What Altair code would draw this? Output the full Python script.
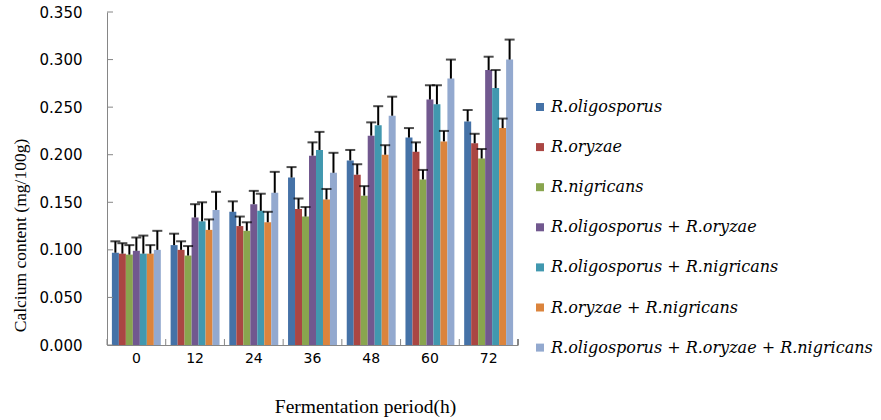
import altair as alt
import pandas as pd

times = ["0", "12", "24", "36", "48", "60", "72"]
series = [
    "R.oligosporus",
    "R.oryzae",
    "R.nigricans",
    "R.oligosporus + R.oryzae",
    "R.oligosporus + R.nigricans",
    "R.oryzae + R.nigricans",
    "R.oligosporus + R.oryzae + R.nigricans",
]
colors = ["#4572A7", "#AA4643", "#89A54E", "#71588F", "#4198AF", "#DB843D", "#93A9CF"]

oligosporus = [0.097, 0.105, 0.140, 0.176, 0.194, 0.218, 0.235]
oryzae = [0.096, 0.100, 0.125, 0.143, 0.179, 0.203, 0.212]
nigricans = [0.095, 0.094, 0.120, 0.135, 0.157, 0.174, 0.196]
olig_ory = [0.099, 0.134, 0.148, 0.199, 0.220, 0.258, 0.289]
olig_nig = [0.096, 0.130, 0.141, 0.205, 0.231, 0.253, 0.270]
ory_nig = [0.096, 0.121, 0.129, 0.153, 0.200, 0.214, 0.228]
all_three = [0.100, 0.142, 0.160, 0.181, 0.241, 0.280, 0.300]

err_oligosporus = [0.012, 0.012, 0.011, 0.011, 0.011, 0.010, 0.012]
err_oryzae = [0.011, 0.009, 0.010, 0.011, 0.011, 0.010, 0.010]
err_nigricans = [0.010, 0.010, 0.009, 0.010, 0.010, 0.010, 0.010]
err_olig_ory = [0.014, 0.014, 0.014, 0.014, 0.014, 0.015, 0.014]
err_olig_nig = [0.019, 0.020, 0.018, 0.019, 0.020, 0.020, 0.019]
err_ory_nig = [0.009, 0.011, 0.011, 0.011, 0.010, 0.011, 0.010]
err_all_three = [0.020, 0.019, 0.022, 0.021, 0.020, 0.020, 0.021]

y_ticks = [0.0, 0.05, 0.10, 0.15, 0.20, 0.25, 0.30, 0.35]

values = [oligosporus, oryzae, nigricans, olig_ory, olig_nig, ory_nig, all_three]
errors = [err_oligosporus, err_oryzae, err_nigricans, err_olig_ory, err_olig_nig, err_ory_nig, err_all_three]

rows = []
for s, vals, errs in zip(series, values, errors):
    for t, v, e in zip(times, vals, errs):
        rows.append({"time": t, "series": s, "value": v, "upper": v + e})
df = pd.DataFrame(rows)
tick_df = pd.DataFrame({"tick": y_ticks})
time_df = pd.DataFrame({"time": times})

AXIS_GRAY = "#868686"
LEGEND_FONT = "DejaVu Serif"
LEGEND_SIZE = 16

x_enc = alt.X(
    "time:N",
    sort=times,
    scale=alt.Scale(paddingInner=0, paddingOuter=0),
    axis=alt.Axis(
        labelAngle=0,
        labelFont="DejaVu Sans",
        labelFontSize=14,
        labelColor="#000000",
        labelPadding=6,
        ticks=False,
        domainColor=AXIS_GRAY,
        domainWidth=1,
        title="Fermentation period(h)",
        titleFont="Liberation Serif",
        titleFontSize=19.5,
        titleFontWeight="normal",
        titleColor="#000000",
        titleX=258,
        titleY=61,
        titleAlign="center",
        titleBaseline="middle",
    ),
)
xoff_enc = alt.XOffset(
    "series:N", sort=series, scale=alt.Scale(paddingInner=0, paddingOuter=0.7)
)
y_scale = alt.Scale(domain=[0, 0.35], nice=False)

bars = alt.Chart(df).mark_bar().encode(
    x=x_enc,
    xOffset=xoff_enc,
    y=alt.Y(
        "value:Q",
        scale=y_scale,
        axis=alt.Axis(
            values=y_ticks,
            format=".3f",
            labelFont="DejaVu Sans",
            labelFontSize=15,
            labelColor="#000000",
            ticks=False,
            labelPadding=25,
            domainColor=AXIS_GRAY,
            domainWidth=1,
            grid=False,
            title="Calcium content (mg/100g)",
            titleFont="Liberation Serif",
            titleFontSize=17.5,
            titleFontWeight="normal",
            titleColor="#000000",
            titleX=-87,
            titleY=223,
            titleAlign="center",
            titleBaseline="middle",
        ),
    ),
    color=alt.Color(
        "series:N",
        sort=series,
        scale=alt.Scale(domain=series, range=colors),
        legend=alt.Legend(
            title=None,
            orient="none",
            legendX=425,
            legendY=87,
            direction="vertical",
            symbolType="square",
            symbolSize=64,
            symbolStrokeWidth=0,
            labelFont=LEGEND_FONT,
            labelFontStyle="italic",
            labelFontSize=LEGEND_SIZE,
            labelColor="#000000",
            labelOffset=3,
            labelLimit=500,
            rowPadding=24.1,
            padding=0,
        ),
    ),
)

err_lines = alt.Chart(df).mark_rule(color="black", strokeWidth=2).encode(
    x=alt.X("time:N", sort=times),
    xOffset=alt.XOffset("series:N", sort=series),
    y=alt.Y("value:Q", scale=y_scale),
    y2="upper:Q",
)

err_caps = alt.Chart(df).mark_tick(
    color="black", thickness=2, size=10, orient="horizontal"
).encode(
    x=alt.X("time:N", sort=times),
    xOffset=alt.XOffset("series:N", sort=series),
    y=alt.Y("upper:Q", scale=y_scale),
)

y_tick_marks = alt.Chart(tick_df).mark_rule(color=AXIS_GRAY, strokeWidth=1).encode(
    y=alt.Y("tick:Q", scale=y_scale),
    x=alt.value(0),
    x2=alt.value(6),
)

x_tick_marks = alt.Chart(time_df).mark_rule(color=AXIS_GRAY, strokeWidth=1).encode(
    x=alt.X("time:N", sort=times, bandPosition=0),
    y=alt.value(333),
    y2=alt.value(327),
)

x_tick_end = alt.Chart(time_df).mark_rule(color=AXIS_GRAY, strokeWidth=1).encode(
    x=alt.value(411),
    y=alt.value(333),
    y2=alt.value(327),
)

chart = (
    alt.layer(bars, err_lines, err_caps, y_tick_marks, x_tick_marks, x_tick_end)
    .properties(
        width=411,
        height=333,
        padding={"left": 107, "top": 12, "right": 363, "bottom": 75},
        autosize=alt.AutoSizeParams(type="none"),
        background="white",
    )
    .configure_view(stroke=None)
    .configure_legend(
        labelFont=LEGEND_FONT,
        labelFontStyle="italic",
        labelFontSize=LEGEND_SIZE,
        labelColor="#000000",
    )
)

chart.save("out.html", embed_options={"renderer": "svg", "actions": False})
